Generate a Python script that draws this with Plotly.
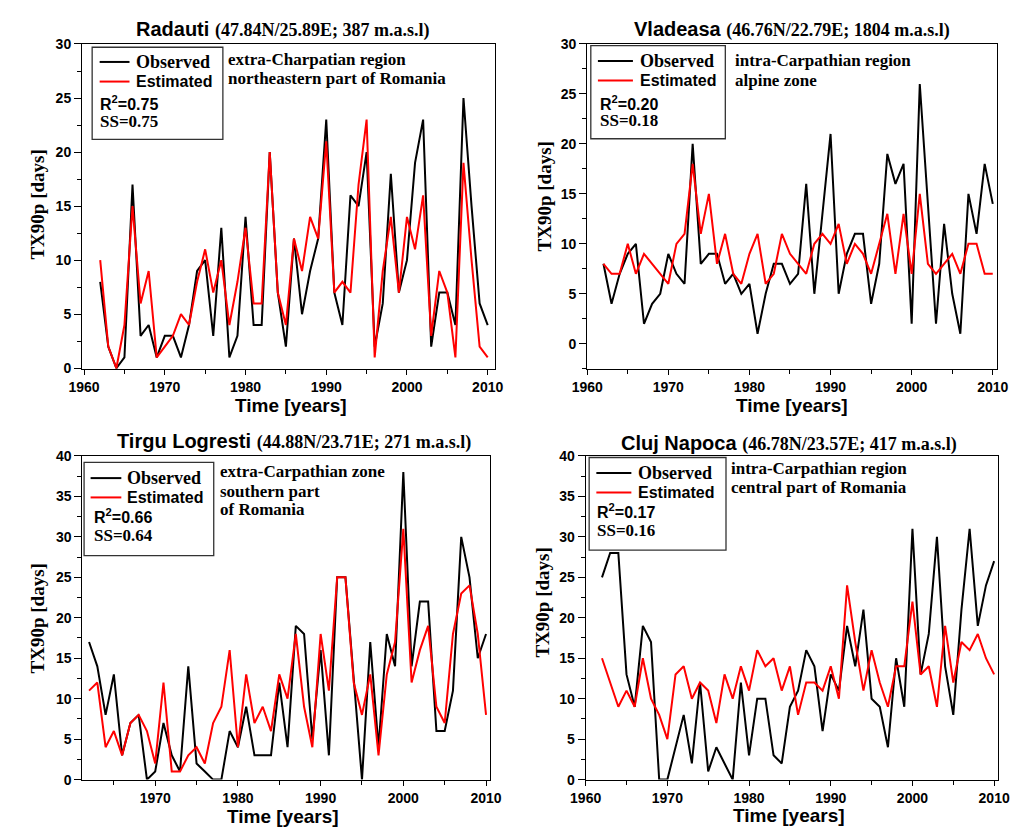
import plotly.graph_objects as go

W, H = 1022, 834

years = list(range(1962, 2011))

radauti_obs = [8, 2, 0, 1, 17, 3, 4, 1, 3, 3, 1, 4, 9, 10, 3, 13, 1, 3, 14, 4, 4, 20, 7,
               2, 12, 5, 9, 12, 23, 7, 4, 16, 15, 20, 2, 6, 18, 7, 10, 19, 23, 2, 7, 7, 4, 25, 15, 6, 4]
radauti_est = [10, 2, 0, 4, 15, 6, 9, 1, 2, 3, 5, 4, 8, 11, 7, 10, 4, 8, 13, 6, 6, 20, 7,
               4, 12, 9, 14, 12, 21, 7, 8, 7, 17, 23, 1, 9, 14, 7, 14, 11, 16, 3, 9, 7, 1, 19, 10, 2, 1]

vladeasa_obs = [8, 4, 7, 9, 10, 2, 4, 5, 9, 7, 6, 20, 8, 9, 9, 6, 7, 5, 6, 1,
                5, 8, 8, 6, 7, 16, 5, 13, 21, 5, 9, 11, 11, 4, 8, 19, 16, 18, 2, 26, 14, 2, 12, 5, 1, 15, 11, 18, 14]
vladeasa_est = [8, 7, 7, 10, 7, 9, 8, 7, 6, 10, 11, 18, 11, 15, 8, 11, 7, 6, 9, 11, 6,
                7, 11, 9, 8, 7, 10, 11, 10, 12, 8, 10, 9, 7, 10, 13, 7, 13, 7, 15, 8, 7, 8, 9, 7, 10, 10, 7, 7]

tirgu_obs = [17, 14, 8, 13, 3, 7, 8, 0, 1, 7, 3, 1, 14, 2, 1, 0, 0, 6, 4, 9, 3, 3, 3, 12,
             4, 19, 18, 5, 16, 3, 25, 25, 12, 0, 17, 4, 18, 14, 38, 14, 22, 22, 6, 6, 11, 30, 25, 15, 18]
tirgu_est = [11, 12, 4, 6, 3, 7, 8, 6, 2, 12, 1, 1, 3, 4, 2, 7, 9, 16, 4, 13, 7, 9, 6, 13,
             10, 18, 9, 4, 18, 11, 25, 25, 12, 8, 13, 3, 13, 17, 31, 12, 16, 19, 9, 7, 18, 23, 24, 18, 8]

cluj_obs = [25, 28, 28, 13, 9, 19, 17, 0, 0, 4, 8, 2, 12, 1, 4, 2, 0, 12, 3, 10,
            10, 3, 2, 9, 11, 16, 14, 6, 13, 11, 19, 14, 21, 10, 9, 4, 15, 9, 31, 13, 18, 30, 14, 8, 21, 31, 19, 24, 27]
cluj_est = [15, 12, 9, 11, 9, 15, 10, 8, 5, 13, 14, 10, 12, 11, 7, 13, 10, 14, 11, 16,
            14, 15, 11, 14, 8, 12, 12, 11, 14, 10, 24, 17, 11, 16, 12, 9, 14, 14, 22, 13, 14, 9, 19, 12, 17, 16, 18, 15, 13]

station_names = ["Radauti", "Vladeasa", "Tirgu Logresti", "Cluj Napoca"]
station_coords = ["(47.84N/25.89E; 387 m.a.s.l)", "(46.76N/22.79E; 1804 m.a.s.l)",
                  "(44.88N/23.71E; 271 m.a.s.l)", "(46.78N/23.57E; 417 m.a.s.l)"]
r2_labels = ["0.75", "0.20", "0.66", "0.17"]
ss_labels = ["0.75", "0.18", "0.64", "0.16"]
region_lines = [["extra-Charpatian region", "northeastern part of Romania"],
                ["intra-Carpathian region", "alpine zone"],
                ["extra-Carpathian zone", "southern part", "of Romania"],
                ["intra-Carpathian region", "central part of Romania"]]
series_names = ["Observed", "Estimated"]
y_title = "TX90p [days]"
x_title = "Time [years]"

obs_all = [radauti_obs, vladeasa_obs, tirgu_obs, cluj_obs]
est_all = [radauti_est, vladeasa_est, tirgu_est, cluj_est]


def px(X):
    return X / W


def py(Y):
    return 1 - Y / H


SANS = "Liberation Sans"
SERIF = "Liberation Serif"

# panel geometry (pixels): left, top, right, bottom
panels = [
    dict(l=68, t=36.7, r=492.7, b=368.3, xr=[1959.76, 2010.93], yr=[-0.09, 30]),
    dict(l=587.3, t=36.7, r=1008.3, b=368.3, xr=[1960, 2010.48], yr=[-2.55, 30]),
    dict(l=68.3, t=456.7, r=487.7, b=786.7, xr=[1961.2, 2010.52], yr=[0, 40]),
    dict(l=585.7, t=456.7, r=1009.3, b=786.7, xr=[1960, 2010.43], yr=[0, 40]),
]

fig = go.Figure()
layout = dict(width=W, height=H, margin=dict(l=0, r=0, t=0, b=0),
              paper_bgcolor="white", plot_bgcolor="white", showlegend=False)

tickfont = dict(family=SANS, size=14, color="black", weight="bold")

for i, p in enumerate(panels):
    n = "" if i == 0 else str(i + 1)
    xa = "x" + n
    ya = "y" + n
    fig.add_trace(go.Scatter(x=years, y=obs_all[i], mode="lines", name=series_names[0],
                             line=dict(color="black", width=2), xaxis=xa, yaxis=ya))
    fig.add_trace(go.Scatter(x=years, y=est_all[i], mode="lines", name=series_names[1],
                             line=dict(color="#ff0000", width=2), xaxis=xa, yaxis=ya))
    layout["xaxis" + n] = dict(
        domain=[px(p["l"]), px(p["r"])], anchor=ya, range=p["xr"],
        tick0=1960, dtick=10, ticks="outside", ticklen=5, tickwidth=1.3, tickcolor="black",
        minor=dict(ticks="outside", ticklen=4, tickwidth=1.2, tick0=1960, dtick=5, tickcolor="black"),
        showline=True, linecolor="black", linewidth=1.3, mirror=True,
        showgrid=False, zeroline=False, tickfont=tickfont)
    layout["yaxis" + n] = dict(
        domain=[py(p["b"]), py(p["t"])], anchor=xa, range=p["yr"],
        tick0=0, dtick=5, ticks="outside", ticklen=7, tickwidth=1.3, tickcolor="black",
        minor=dict(ticks="outside", ticklen=4, tickwidth=1.2, tick0=0, dtick=2.5, tickcolor="black"),
        showline=True, linecolor="black", linewidth=1.3, mirror=True,
        showgrid=False, zeroline=False, tickfont=tickfont)

annotations = []
shapes = []


def ann(text, X, Y, size, family, xanchor="left", angle=0, color="black"):
    annotations.append(dict(text=text, x=px(X), y=py(Y), xref="paper", yref="paper",
                            xanchor=xanchor, yanchor="middle", showarrow=False, textangle=angle,
                            font=dict(family=family, size=size, color=color)))


# titles
title_pos = [(274, 22), (798, 22), (286, 442), (795, 444)]
for i in range(4):
    t = ("<b>%s</b> <span style='font-family:Liberation Serif;font-size:18px'><b>%s</b></span>"
         % (station_names[i], station_coords[i]))
    ann(t, title_pos[i][0], title_pos[i][1], 20, SANS, xanchor="center")

# axis titles
ytitle_pos = [(22, 200), (543, 192), (22, 622), (541, 606)]
xtitle_pos = [(283, 405), (798, 405), (275, 824), (795, 823)]
for i in range(4):
    ann("<b>%s</b>" % y_title, ytitle_pos[i][0], ytitle_pos[i][1], 19, SERIF, xanchor="center", angle=-90)
    ann("<b>%s</b>" % x_title, xtitle_pos[i][0], xtitle_pos[i][1], 19, SANS, xanchor="center")

# legend boxes
legends = [
    dict(box=(78.3, 40, 212.7, 134), lx=(86, 116.7), oy=55, ey=75, tx=121, rx=84, ry=96.7, sy=116),
    dict(box=(591, 38.3, 729.3, 133.3), lx=(598.3, 634.3), oy=54, ey=74, tx=639.3, rx=598.3, ry=96.7, sy=115),
    dict(box=(70, 463.3, 203.3, 558.3), lx=(76.7, 108.3), oy=479.3, ey=499, tx=112.3, rx=77.7, ry=517.5, sy=537.5),
    dict(box=(589.3, 458.3, 730, 552.7), lx=(596.7, 632.7), oy=474, ey=494, tx=637.3, rx=595.7, ry=513, sy=532.5),
]
for i, lg in enumerate(legends):
    x0, y0, x1, y1 = lg["box"]
    shapes.append(dict(type="rect", xref="paper", yref="paper", x0=px(x0), x1=px(x1), y0=py(y1), y1=py(y0),
                       line=dict(color="#333333", width=1.3), fillcolor="rgba(0,0,0,0)"))
    shapes.append(dict(type="line", xref="paper", yref="paper", x0=px(lg["lx"][0]), x1=px(lg["lx"][1]),
                       y0=py(lg["oy"]), y1=py(lg["oy"]), line=dict(color="black", width=2)))
    shapes.append(dict(type="line", xref="paper", yref="paper", x0=px(lg["lx"][0]), x1=px(lg["lx"][1]),
                       y0=py(lg["ey"]), y1=py(lg["ey"]), line=dict(color="#ff0000", width=2)))
    ann("<b>%s</b>" % series_names[0], lg["tx"], lg["oy"], 18, SERIF)
    ann("<b>%s</b>" % series_names[1], lg["tx"], lg["ey"], 16, SANS)
    ann("<b>R<sup>2</sup>=%s</b>" % r2_labels[i], lg["rx"], lg["ry"], 16, SANS)
    ann("<b>SS=%s</b>" % ss_labels[i], lg["rx"], lg["sy"], 17, SERIF)

# region descriptions
region_pos = [(216, [52, 72]), (736.7, [54, 74]), (207.7, [472.7, 492.7, 511.7]), (732.7, [469.3, 489.3])]
for i in range(4):
    X, Ys = region_pos[i]
    for line, Y in zip(region_lines[i], Ys):
        ann("<b>%s</b>" % line, X, Y, 17, SERIF)

layout["annotations"] = annotations
layout["shapes"] = shapes
fig.update_layout(**layout)
fig.write_html("out.html")
